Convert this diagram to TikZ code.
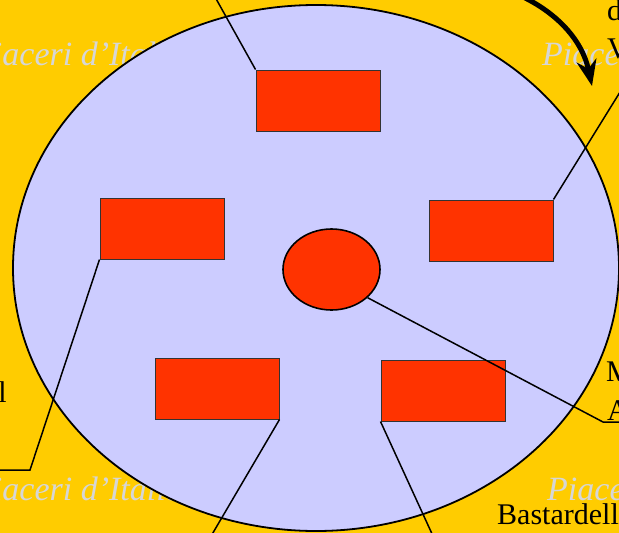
\documentclass[tikz,border=0pt]{standalone}
\usepackage{fontspec}
\setmainfont{Liberation Serif}
\usetikzlibrary{arrows.meta,shapes.geometric}
\definecolor{slidebg}{RGB}{255,204,0}
\definecolor{platefill}{RGB}{204,204,255}
\definecolor{piecered}{RGB}{255,51,0}
\definecolor{watermark}{RGB}{214,214,214}

\begin{document}
\begin{tikzpicture}[x=1pt, y=-1pt,
  every node/.style={font=\fontsize{30}{34}\selectfont, inner sep=0pt},
  plate/.style={ellipse, draw, line width=1.8pt, fill=platefill,
                minimum width=606pt, minimum height=526pt},
  piece/.style={draw=black!80, line width=1pt, fill=piecered,
                minimum width=124pt, minimum height=61pt},
  hubshape/.style={ellipse, draw, line width=1.6pt, fill=piecered,
                minimum width=97pt, minimum height=81pt},
  leader/.style={line width=1.5pt},
  wmark/.style={text=watermark, font=\fontsize{34}{34}\selectfont\itshape},
  swing/.style={-{Stealth[length=26pt,width=20pt]}, line width=5pt},
]
  \useasboundingbox (0,0) rectangle (619,533);
  \clip (0,0) rectangle (619,533);
  \fill[slidebg] (0,0) rectangle (619,533);

  % Background watermark
  \node[wmark, anchor=base west] (wm1) at (-28,65)  {Piaceri d'Italia};
  \node[wmark, anchor=base west] (wm2) at (542,65)  {Piaceri d'Italia};
  \node[wmark, anchor=base west] (wm3) at (-28,500) {Piaceri d'Italia};
  \node[wmark, anchor=base west] (wm4) at (547,500) {Piaceri d'Italia};

  % Plate with its pieces
  \node[plate] (plate) at (316,268) {};
  \node[piece] (top)   at (318,100.5) {};
  \node[piece] (left)  at (162,228.5) {};
  \node[piece] (right) at (491,230.5) {};
  \node[piece] (bl)    at (217,388.5) {};
  \node[piece] (br)    at (443,390.5) {};
  \node[hubshape] (hub) at (331.5,269.5) {};

  % Labels at the edges
  \node[anchor=base west] (vtop) at (607,20)  {d};
  \node[anchor=base west] (vbot) at (607,58)  {V};
  \node[anchor=base east] (lleft) at (7,402)  {l};
  \node[anchor=base west] (mtop) at (606,381) {M};
  \node[anchor=base west] (mbot) at (607,420) {A};
  \node[anchor=base west] (bast) at (497,524) {Bastardell};

  % Leader lines
  \coordinate (topEnd)   at (200,-30);
  \coordinate (rightCr)  at (625,84);
  \coordinate (rightEnd) at (680,84);
  \coordinate (leftCr)   at (30,470);
  \coordinate (leftEnd)  at (-30,470);
  \coordinate (hubCr)    at (603,422);
  \coordinate (hubEnd)   at (680,422);
  \coordinate (blEnd)    at (197,560);
  \coordinate (brEnd)    at (444,560);

  \draw[leader] (top.north west) -- (topEnd);
  \draw[leader] (right.north east) -- (rightCr) -- (rightEnd);
  \draw[leader] (left.south west) -- (leftCr) -- (leftEnd);
  \draw[leader] (hub.-38) -- (hubCr) -- (hubEnd);
  \draw[leader] (bl.south east) -- (blEnd);
  \draw[leader] (br.south west) -- (brEnd);

  % Turning arrow, top right
  \coordinate (swingA) at (500,-12);
  \coordinate (swingB) at (592,86);
  \draw[swing] (swingA) .. controls (540,0) and (580,30) .. (swingB);
\end{tikzpicture}
\end{document}
